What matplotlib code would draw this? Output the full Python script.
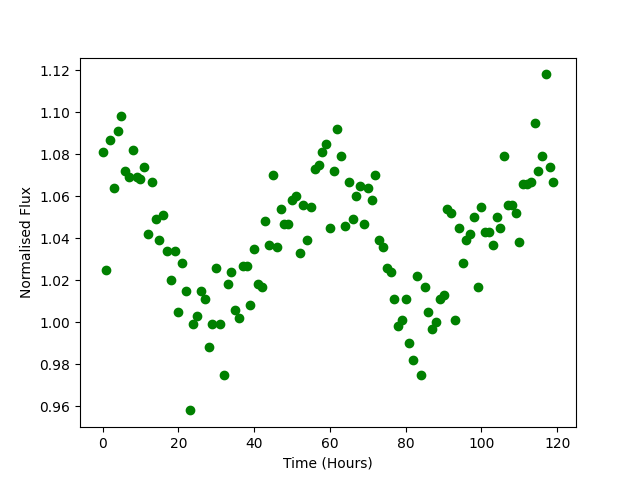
import numpy as np
import matplotlib
matplotlib.use("Agg")
import matplotlib.pyplot as plt

# hourly normalised flux readings
hours = np.arange(120)
flux = [
    1.081, 1.025, 1.087, 1.064, 1.091, 1.098, 1.072, 1.069, 1.082, 1.069,
    1.068, 1.074, 1.042, 1.067, 1.049, 1.039, 1.051, 1.034, 1.020, 1.034,
    1.005, 1.028, 1.015, 0.958, 0.999, 1.003, 1.015, 1.011, 0.988, 0.999,
    1.026, 0.999, 0.975, 1.018, 1.024, 1.006, 1.002, 1.027, 1.027, 1.008,
    1.035, 1.018, 1.017, 1.048, 1.037, 1.070, 1.036, 1.054, 1.047, 1.047,
    1.058, 1.060, 1.033, 1.056, 1.039, 1.055, 1.073, 1.075, 1.081, 1.085,
    1.045, 1.072, 1.092, 1.079, 1.046, 1.067, 1.049, 1.060, 1.065, 1.047,
    1.064, 1.058, 1.070, 1.039, 1.036, 1.026, 1.024, 1.011, 0.998, 1.001,
    1.011, 0.990, 0.982, 1.022, 0.975, 1.017, 1.005, 0.997, 1.000, 1.011,
    1.013, 1.054, 1.052, 1.001, 1.045, 1.028, 1.039, 1.042, 1.050, 1.017,
    1.055, 1.043, 1.043, 1.037, 1.050, 1.045, 1.079, 1.056, 1.056, 1.052,
    1.038, 1.066, 1.066, 1.067, 1.095, 1.072, 1.079, 1.118, 1.074, 1.067,
]

plt.figure(figsize=(6.4, 4.8), dpi=100)
plt.plot(hours, flux, 'o', color='green')
plt.xlabel('Time (Hours)')
plt.ylabel('Normalised Flux')
plt.savefig('out.png')
